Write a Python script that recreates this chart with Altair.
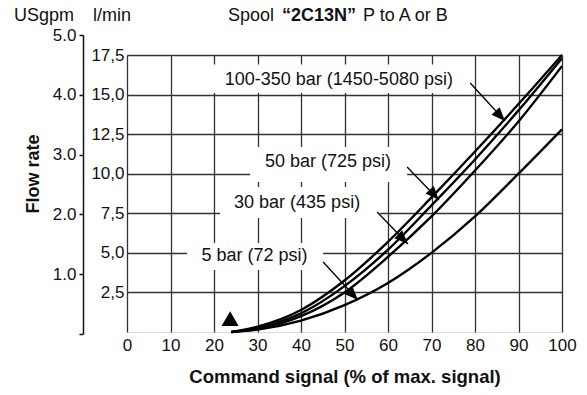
import altair as alt
import pandas as pd

# ---- data ----
signal = [24, 30, 40, 50, 60, 70, 80, 90, 100]
flow_100_350 = [0, 0.34, 1.39, 3.25, 5.7, 8.5, 11.4, 14.4, 17.5]
flow_50 = [0, 0.27, 1.18, 2.9, 5.2, 8.0, 10.9, 14.0, 17.3]
flow_30 = [0, 0.19, 1.0, 2.5, 4.75, 7.3, 10.2, 13.3, 16.8]
flow_5 = [0, 0.15, 0.72, 1.7, 3.1, 5.0, 7.3, 10.0, 12.8]
series_names = ["100-350 bar (1450-5080 psi)", "50 bar (725 psi)",
                "30 bar (435 psi)", "5 bar (72 psi)"]

x_ticks = list(range(0, 101, 10))
lmin_ticks = [2.5, 5.0, 7.5, 10.0, 12.5, 15.0, 17.5]
gpm_ticks = [0, 1, 2, 3, 4, 5]

# annotation labels (data coordinates)
label_x = [48.7, 46.2, 39.1, 29.3]
label_y = [15.95, 10.74, 8.15, 4.8]
box_x1 = [17.9, 28.3, 21.4, 13.8]
box_x2 = [77.0, 64.4, 58.2, 45.1]
box_y1 = [15.1, 9.48, 7.2, 3.92]
box_y2 = [16.9, 11.69, 9.16, 5.62]
arrow_x1 = [78.9, 64.4, 57.5, 45.1]
arrow_y1 = [15.73, 10.42, 7.58, 4.42]
arrow_x2 = [86.9, 71.7, 64.6, 53.1]
arrow_y2 = [13.33, 8.34, 5.56, 2.02]
arrow_angle = [137, 138, 135, 136]

marker_x = [23.7]
marker_y = [0.85]

FONT = "Liberation Sans"

rows = []
for name, ys in zip(series_names, [flow_100_350, flow_50, flow_30, flow_5]):
    for xv, yv in zip(signal, ys):
        rows.append({"series": name, "signal": xv, "flow": yv})
curves_df = pd.DataFrame(rows)

ann_df = pd.DataFrame({
    "label": series_names, "lx": label_x, "ly": label_y,
    "bx1": box_x1, "bx2": box_x2, "by1": box_y1, "by2": box_y2,
    "ax1": arrow_x1, "ay1": arrow_y1, "ax2": arrow_x2, "ay2": arrow_y2,
    "ang": arrow_angle,
})

xs = alt.Scale(domain=[0, 100], nice=False)
ys = alt.Scale(domain=[0, 17.5], nice=False)

x_axis = alt.Axis(values=x_ticks, grid=True, gridColor="#333", gridWidth=1.3,
                  ticks=False, domain=False, labelFontSize=17, labelPadding=5,
                  labelColor="#111", labelFont=FONT, labelFlush=False,
                  labelOverlap=False,
                  title="Command signal (% of max. signal)", titleFontSize=18.5,
                  titleFontWeight="bold", titleColor="#111", titleFont=FONT,
                  titlePadding=14)
y_axis = alt.Axis(values=lmin_ticks, grid=True, gridColor="#333", gridWidth=1.3,
                  ticks=False, domain=False, labelFontSize=17, labelPadding=3,
                  labelColor="#111", labelFont=FONT, title=None,
                  labelFlush=False, labelOverlap=False,
                  labelExpr="replace(format(datum.value, '.1f'), '.', ',')")


def X(field):
    return alt.X(field, scale=xs, axis=x_axis, title="Command signal (% of max. signal)")


def Y(field):
    return alt.Y(field, scale=ys, axis=y_axis, title=None)


curves = alt.Chart(curves_df).mark_line(
    color="black", strokeWidth=2.4, interpolate="monotone"
).encode(x=X("signal:Q"), y=Y("flow:Q"), detail="series:N")

boxes = alt.Chart(ann_df).mark_rect(fill="white").encode(
    x=X("bx1:Q"), x2="bx2:Q", y=Y("by1:Q"), y2="by2:Q",
)

labels = alt.Chart(ann_df).mark_text(
    font=FONT, fontSize=18, color="#111", align="center", baseline="middle"
).encode(x=X("lx:Q"), y=Y("ly:Q"), text="label:N")

arrows = alt.Chart(ann_df).mark_rule(color="black", strokeWidth=1.3).encode(
    x=X("ax1:Q"), x2="ax2:Q", y=Y("ay1:Q"), y2="ay2:Q",
)

heads = alt.Chart(ann_df).mark_point(
    shape="M0,0L-0.4,1L0.4,1Z", size=760, filled=True, color="black", opacity=1
).encode(x=X("ax2:Q"), y=Y("ay2:Q"), angle=alt.Angle("ang:Q", scale=None))

marker = alt.Chart(pd.DataFrame({"mx": marker_x, "my": marker_y})).mark_point(
    shape="triangle-up", size=290, filled=True, color="black", opacity=1
).encode(x=X("mx:Q"), y=Y("my:Q"))


def txt(t, x, y, weight="normal", align="left", angle=0, size=18):
    return alt.Chart(pd.DataFrame({"t": [t]})).mark_text(
        font=FONT, fontSize=size, fontWeight=weight, color="#111",
        align=align, baseline="alphabetic" if angle == 0 else "middle", angle=angle
    ).encode(text="t:N", x=alt.value(x), y=alt.value(y))


headers = [
    txt("USgpm", -113, -34),
    txt("l/min", -34, -34),
    txt("Spool", 101, -34),
    txt("\u201c2C13N\u201d", 155, -34, weight="bold"),
    txt("P to A or B", 236, -34),
    txt("Flow rate", -93, 119, weight="bold", align="center", angle=270),
]

inner = alt.layer(curves, boxes, labels, arrows, heads, marker, *headers)

gpm_layer = alt.Chart(pd.DataFrame({"gpm": gpm_ticks})).mark_point(opacity=0).encode(
    y=alt.Y("gpm:Q",
            scale=alt.Scale(domain=[0, 5], range=[279, -20], nice=False),
            axis=alt.Axis(orient="left", offset=44, values=gpm_ticks, grid=False,
                          ticks=True, tickSize=4, tickWidth=1.5, tickColor="#111",
                          domain=True, domainColor="#111", domainWidth=1.5,
                          labelFontSize=17, labelPadding=3, labelColor="#111",
                          labelFont=FONT, title=None, labelFlush=False,
                          labelOverlap=False,
                          labelExpr="datum.value == 0 ? '' : format(datum.value, '.1f')"))
)

chart = alt.layer(inner, gpm_layer).resolve_scale(y="independent").properties(
    width=435, height=277,
    autosize=alt.AutoSizeParams(type="none"),
    padding={"left": 119, "top": 47, "right": 17, "bottom": 55},
).configure_view(stroke="#222", strokeWidth=1.5).configure(background="white")

chart.save("out.html", embed_options={"renderer": "svg", "actions": False})
